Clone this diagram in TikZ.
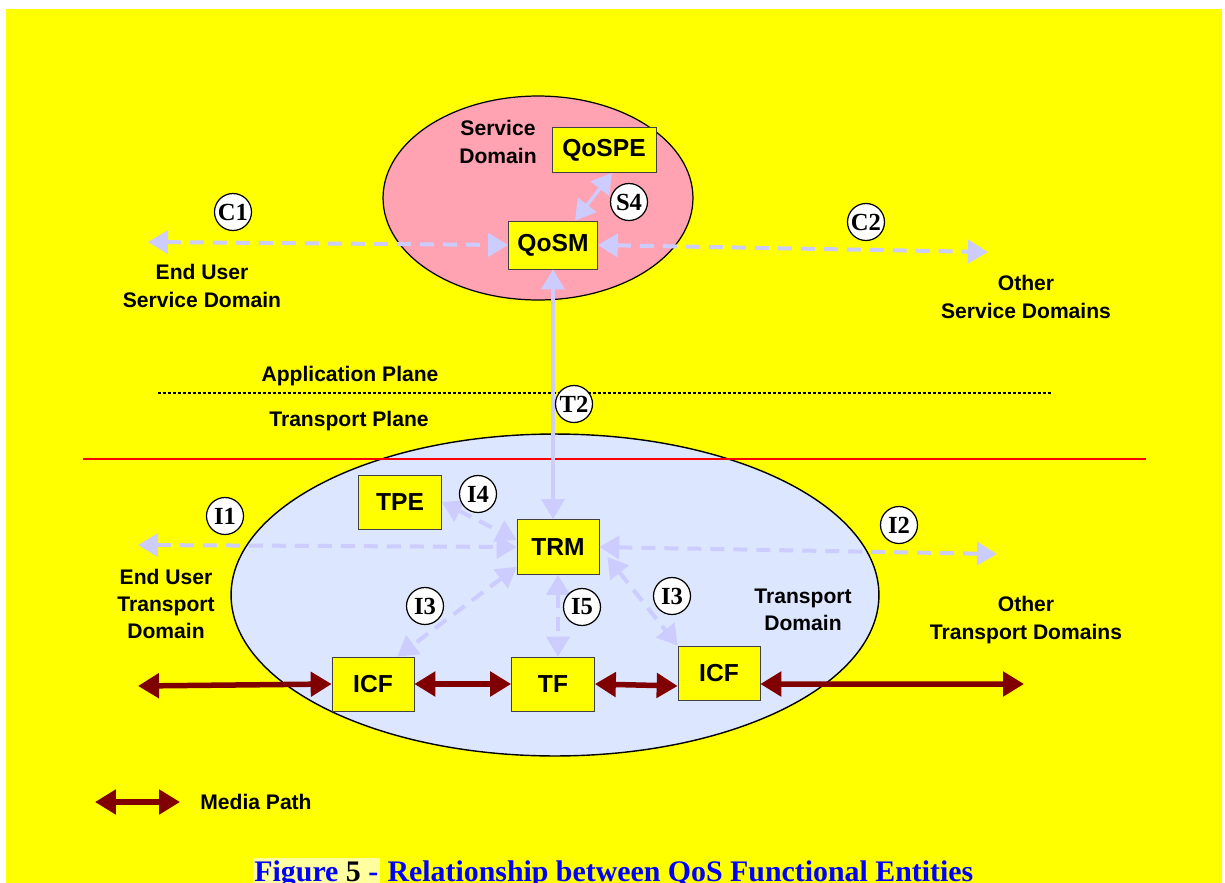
\documentclass[tikz,border=0pt]{standalone}
\usepackage{fontspec}
\setmainfont{Liberation Sans}
\newfontfamily\capfont{Liberation Serif}
\usetikzlibrary{arrows.meta}
\definecolor{bgyellow}{RGB}{255,255,0}
\definecolor{svcpink}{RGB}{255,162,178}
\definecolor{trnblue}{RGB}{221,230,255}
\definecolor{ifclav}{RGB}{204,204,255}
\definecolor{mediared}{RGB}{128,0,0}
\definecolor{caphl}{RGB}{255,255,160}
\setlength{\fboxsep}{1pt}

\begin{document}
\begin{tikzpicture}[x=0.02cm, y=-0.02cm,
		entity/.style={draw=black!75, line width=0.4pt, fill=bgyellow, rectangle, inner sep=0pt, font=\bfseries\fontsize{14}{16}\selectfont},
		tag/.style={draw, line width=0.7pt, circle, fill=white, inner sep=0pt, minimum size=0.74cm, font=\capfont\bfseries\fontsize{14}{14}\selectfont},
		lbl/.style={align=center, inner sep=0pt, font=\bfseries\fontsize{12}{15.5}\selectfont},
		ifc/.style={draw=ifclav, line width=0.08cm, dash pattern=on 0.28cm off 0.18cm, {Triangle[length=0.4cm, width=0.46cm]}-{Triangle[length=0.4cm, width=0.46cm]}},
		ifcsolid/.style={draw=ifclav, line width=0.07cm, {Triangle[length=0.4cm, width=0.46cm]}-{Triangle[length=0.4cm, width=0.46cm]}},
		media/.style={draw=mediared, line width=0.11cm, {Triangle[length=0.42cm, width=0.48cm]}-{Triangle[length=0.42cm, width=0.48cm]}}]
			\useasboundingbox (0,0) rectangle (1225,883);
			\fill[bgyellow] (6,9) rectangle (1222,883);
			\draw[fill=svcpink, line width=0.7pt] (538,198) ellipse [x radius=3.1cm, y radius=2.04cm];
			\draw[fill=trnblue, line width=0.8pt] (555,595) ellipse [x radius=6.48cm, y radius=3.22cm];
			\draw[red, line width=0.6pt] (83,459) -- (1146,459);
			\draw[line width=0.05cm, dash pattern=on 0.06cm off 0.04cm] (158,393) -- (1051,393);
			\node[entity, minimum width=2.08cm, minimum height=0.9cm] (qospe) at (604,150) {QoSPE};
			\node[entity, minimum width=1.78cm, minimum height=0.96cm] (qosm) at (553,245) {QoSM};
			\node[entity, minimum width=1.66cm, minimum height=1.08cm] (tpe) at (400,502) {TPE};
			\node[entity, minimum width=1.64cm, minimum height=1.1cm] (trm) at (558,547) {TRM};
			\node[entity, minimum width=1.64cm, minimum height=1.08cm] (icfl) at (373,684) {ICF};
			\node[entity, minimum width=1.66cm, minimum height=1.08cm] (tf) at (553,684) {TF};
			\node[entity, minimum width=1.64cm, minimum height=1.08cm] (icfr) at (719,673) {ICF};
			\node[lbl] (svcdom) at (498,142) {Service\\Domain};
			\node[lbl] (eusdlbl) at (202,286) {End User\\Service Domain};
			\node[lbl] (osdlbl) at (1026,297) {Other\\Service Domains};
			\node[lbl] (appplane) at (350,376) {Application Plane};
			\node[lbl] (trnplane) at (349,421) {Transport Plane};
			\node[lbl] (eutdlbl) at (166,604) {End User\\Transport\\Domain};
			\node[lbl] (trndom) at (803,610) {Transport\\Domain};
			\node[lbl] (otdlbl) at (1026,620) {Other\\Transport Domains};
			\node[lbl, anchor=west] (medialbl) at (200,802) {Media Path};
			\coordinate (c1end) at (148,242);
			\coordinate (c2end) at (988,252);
			\coordinate (i1end) at (138,545);
			\coordinate (i2end) at (997,554);
			\coordinate (medl) at (138,686);
			\coordinate (medr) at (1024,684);
			\coordinate (legl) at (95,802);
			\coordinate (legr) at (180,802);
			\draw[ifc] (c1end) -- (qosm.west);
			\draw[ifc] (qosm.east) -- (c2end);
			\draw[ifcsolid] ([xshift=0.44cm]qosm.north) -- ([xshift=0.16cm]qospe.south);
			\draw[ifcsolid] (qosm.south) -- (qosm.south |- trm.north);
			\draw[ifc] (i1end) -- (trm.west);
			\draw[ifc] (trm.east) -- (i2end);
			\draw[ifc] (tpe.east) -- ([yshift=0.14cm]trm.west);
			\draw[ifc] ([yshift=0.16cm]trm.south west) -- ([xshift=-0.34cm]icfl.north east);
			\draw[ifc] (trm.south) -- (trm.south |- tf.north);
			\draw[ifc] ([shift={(0.16cm,-0.2cm)}]trm.east) -- (icfr.north west);
			\draw[media] (medl) -- (icfl.west);
			\draw[media] (icfl.east) -- (tf.west);
			\draw[media] (tf.east) -- ([yshift=-0.26cm]icfr.west);
			\draw[media] ([yshift=-0.22cm]icfr.east) -- (medr);
			\draw[media] (legl) -- (legr);
			\node[tag] (c1) at (233,212) {C1};
			\node[tag] (c2) at (866,222) {C2};
			\node[tag] (s4) at (629,202) {S4};
			\node[tag] (t2) at (574,404) {T2};
			\node[tag] (i1) at (225,516) {I1};
			\node[tag] (i4) at (478,494) {I4};
			\node[tag] (i2) at (899,525) {I2};
			\node[tag] (i3l) at (425,606) {I3};
			\node[tag] (i5) at (582,607) {I5};
			\node[tag] (i3r) at (672,596) {I3};
			\node[anchor=base, inner sep=0pt, text=blue, font=\capfont\bfseries\fontsize{17}{17}\selectfont] (caption) at (613,881) {\colorbox{caphl}{\strut Figure \textcolor{black}{5} -} Relationship between QoS Functional Entities};
		\end{tikzpicture}
\end{document}
